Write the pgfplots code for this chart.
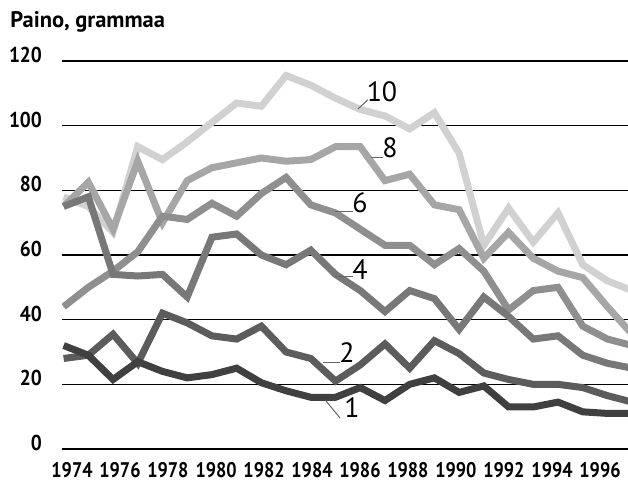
\documentclass[border=0pt]{standalone}
\usepackage{fontspec}
\setmainfont{PT Sans}
\usepackage{pgfplots}
\pgfplotsset{compat=1.18}
\definecolor{c1}{gray}{0.25}
\definecolor{c2}{gray}{0.36}
\definecolor{c4}{gray}{0.47}
\definecolor{c6}{gray}{0.56}
\definecolor{c8}{gray}{0.65}
\definecolor{c10}{gray}{0.82}
\begin{document}
\begin{tikzpicture}
\useasboundingbox (0,0) rectangle (314bp,240bp);
\node[anchor=west, inner sep=0, font=\fontsize{11.3}{13}\selectfont\bfseries] at (5bp,229bp) {Paino, grammaa};
\begin{axis}[
  at={(31bp,15.5bp)}, anchor=south west, scale only axis,
  width=283bp, height=194bp,
  xmin=1973.935, xmax=1996.832, ymin=0, ymax=120,
  axis line style={draw=none},
  ymajorgrids, grid style={black, line width=0.8bp},
  major tick length=0,
  ytick={0,20,40,60,80,100,120},
  yticklabels={0,20,40,60,80,100,120},
  xtick={1974.34,1976.28,1978.22,1980.17,1982.11,1984.05,1985.99,1987.93,1989.87,1991.81,1993.76,1995.70},
  xticklabels={1974,1976,1978,1980,1982,1984,1986,1988,1990,1992,1994,1996},
  yticklabel style={anchor=east, xshift=-6.5bp, yshift=3bp, font=\fontsize{10.8}{12}\selectfont\bfseries\addfontfeatures{FakeStretch=0.9}},
  xticklabel style={anchor=north, yshift=-3bp, font=\fontsize{10.6}{12}\selectfont\bfseries\addfontfeatures{FakeStretch=0.86}},
  every axis plot/.append style={line width=3.5bp, line join=miter, miter limit=3},
  clip=true,
]
\addplot[c10] coordinates {(1974,78)(1975,75)(1976,67)(1977,93.5)(1978,89.5)(1979,95)(1980,101)(1981,107)(1982,106)(1983,115.5)(1984,112.5)(1985,108.5)(1986,105)(1987,103)(1988,99)(1989,104)(1990,91.5)(1991,63)(1992,74.5)(1993,64)(1994,73)(1995,57)(1996,52)(1997,49)};
\addplot[c8] coordinates {(1974,75)(1975,82.5)(1976,68)(1977,89)(1978,70)(1979,83)(1980,87)(1981,88.5)(1982,90)(1983,89)(1984,89.5)(1985,93.5)(1986,93.5)(1987,83)(1988,85)(1989,75.5)(1990,74)(1991,59)(1992,67)(1993,59)(1994,55)(1995,53)(1996,44)(1997,35.5)};
\addplot[c6] coordinates {(1974,44)(1975,50)(1976,55)(1977,61)(1978,72)(1979,71)(1980,76)(1981,72)(1982,79)(1983,84)(1984,75.5)(1985,73)(1986,68)(1987,63)(1988,63)(1989,57)(1990,62)(1991,55)(1992,43)(1993,49)(1994,50)(1995,38)(1996,34)(1997,32)};
\addplot[c4] coordinates {(1974,75)(1975,78)(1976,54)(1977,53.5)(1978,54)(1979,47)(1980,65.5)(1981,66.5)(1982,60)(1983,57)(1984,61.5)(1985,54)(1986,49)(1987,42.5)(1988,49)(1989,46.5)(1990,37)(1991,47)(1992,41)(1993,34)(1994,35)(1995,29)(1996,26.5)(1997,25)};
\addplot[c2] coordinates {(1974,28)(1975,29)(1976,35.5)(1977,26.5)(1978,42)(1979,39)(1980,35)(1981,34)(1982,38)(1983,30)(1984,28)(1985,21)(1986,26)(1987,32.5)(1988,25)(1989,33.5)(1990,29.5)(1991,23.5)(1992,21.5)(1993,20)(1994,20)(1995,19)(1996,16.5)(1997,14.5)};
\addplot[c1] coordinates {(1974,32)(1975,29)(1976,21.5)(1977,27)(1978,24)(1979,22)(1980,23)(1981,25)(1982,20.5)(1983,18)(1984,16)(1985,16)(1986,19)(1987,15)(1988,20)(1989,22)(1990,17.5)(1991,19.5)(1992,13)(1993,13)(1994,14.5)(1995,11.5)(1996,11)(1997,11)};
\draw[gray!80!black, line width=0.5bp] (axis cs:1985.91,105.2) -- (axis cs:1986.31,108.0);
\draw[gray!80!black, line width=0.5bp] (axis cs:1986.44,90.3) -- (axis cs:1986.93,90.3);
\draw[gray!80!black, line width=0.5bp] (axis cs:1984.98,73.3) -- (axis cs:1985.71,73.3);
\draw[gray!80!black, line width=0.5bp] (axis cs:1984.98,53.2) -- (axis cs:1985.71,53.2);
\draw[gray!80!black, line width=0.5bp] (axis cs:1984.49,26.6) -- (axis cs:1985.18,26.6);
\draw[gray!80!black, line width=0.5bp] (axis cs:1984.58,15.2) -- (axis cs:1985.18,9.6);
\node[font=\fontsize{14}{16}\selectfont, inner sep=0] at (axis cs:1986.88,110.4) {10};
\node[font=\fontsize{14}{16}\selectfont, inner sep=0] at (axis cs:1987.20,93.1) {8};
\node[font=\fontsize{14}{16}\selectfont, inner sep=0] at (axis cs:1985.99,76.1) {6};
\node[font=\fontsize{14}{16}\selectfont, inner sep=0] at (axis cs:1985.99,55.4) {4};
\node[font=\fontsize{14}{16}\selectfont, inner sep=0] at (axis cs:1985.46,29.7) {2};
\node[font=\fontsize{14}{16}\selectfont, inner sep=0] at (axis cs:1985.67,12.7) {1};
\end{axis}
\end{tikzpicture}
\end{document}
